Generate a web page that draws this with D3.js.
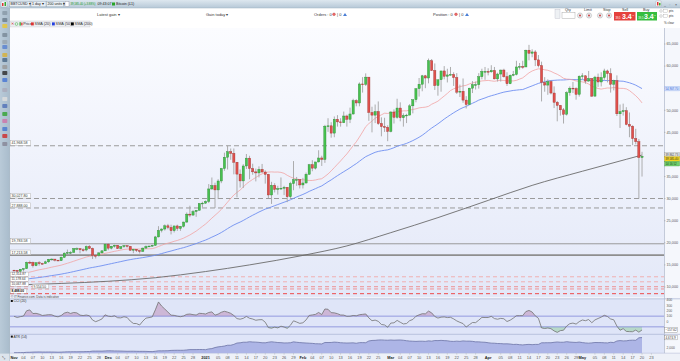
<!DOCTYPE html>
<html><head><meta charset="utf-8">
<script src="https://cdn.jsdelivr.net/npm/d3@7"></script>
<style>
html,body{margin:0;padding:0;background:#fff;overflow:hidden;}
svg{display:block;font-family:"Liberation Sans",Arial,sans-serif;}
</style></head><body>
<svg id="c" width="680" height="361"></svg>
<script>
// ---------------- DATA (BTC/USD daily) ----------------
const startDay = "2020-11-01";
const closes = [
 13760,13550,14030,14150,15590,15580,14830,15480,15330,15300,15700,16280,16320,16070,15960,16730,17660,17800,17820,18680,18710,18420,18370,19160,18730,17150,17140,17720,18180,19700,
 18790,19220,19450,18700,19150,19370,19190,18330,18550,18250,18040,18800,19170,19270,19430,21330,22800,23120,23850,23480,22740,23820,23250,23720,24700,26490,26280,27080,27360,28880,28980,
 29370,32190,32960,31970,33990,36820,39370,40600,40250,38240,35550,34010,37390,39160,36830,36060,35820,36630,36020,35490,30830,33000,32090,32270,32360,32570,30420,33400,34300,34300,33100,
 33540,35510,37670,36900,38300,39200,38870,46400,46480,44830,47960,47370,47190,48700,47960,49160,52180,51650,55950,55880,57500,49500,48900,49700,47000,46300,46150,45200,
 49600,48400,50500,48300,48800,48900,51000,52400,54900,55900,57800,57300,61200,59000,55600,56900,58900,57700,58000,58100,57400,54100,54300,52300,51300,55000,55800,55800,57600,58800,58800,
 58700,59000,57100,58200,59100,57600,56000,57900,58100,59800,59900,59800,63600,62900,63200,61400,60100,56300,55700,56500,53900,51800,51100,50100,49100,54000,55000,54900,53600,57700,
 57800,56600,57200,53200,57500,56400,57400,58900,58300,55900,56700,49200,49700,49900,46800,46400,43600,42900,39300,39585];
const highs = [
 13900,13820,14060,14250,15740,15960,15760,15640,15850,15480,15950,16350,16480,16330,16140,16880,17860,18480,18120,18810,18960,18700,18770,19390,19470,18910,17450,17880,18350,19860,
 19920,19300,19580,19510,19180,19420,19420,19290,18640,18560,18290,18940,19410,19350,19570,21560,23770,23280,24170,24280,24100,23840,24100,23800,24780,26870,28400,27400,27390,28990,29300,
 29600,33300,34780,33600,34400,36950,40400,41950,41350,41350,38300,36600,37800,40100,39700,37900,36800,37300,37850,36400,35600,33800,33500,32900,34800,32900,32600,33800,38500,34900,34400,
 34700,35900,37850,38700,38300,40950,39700,46700,48200,47300,48600,48900,48200,49700,49000,50600,52600,52500,56300,57500,58350,57500,50800,51300,52000,48400,48300,46600,
 49800,50200,52600,51800,49300,49200,51400,52400,54900,57300,58000,58000,61700,61600,60600,56900,58900,60000,59400,59800,58600,58400,55800,57200,53200,55100,56600,56500,58400,59400,59800,
 59500,60200,59800,58500,59200,59400,58600,58100,58900,61200,60700,61200,63700,64800,63800,63600,62500,61000,57500,57000,56800,55400,52100,51200,50500,54300,55400,56400,55200,57900,
 58400,57900,58900,57200,57800,58300,58600,59400,59200,59500,56900,57900,51300,51500,50700,49500,46600,45800,43500,40600];
const lows = [
 13620,13250,13300,13530,14100,15200,14400,14700,14840,15100,15280,15450,15970,15780,15870,15890,16560,17240,17380,17780,18340,17630,18000,18070,18580,16330,16450,16880,17520,18180,
 18330,18510,18920,18600,18550,18870,18910,18200,17650,17930,17580,18020,18710,19000,19080,19290,21230,22350,22780,23060,21900,22350,22700,22700,23450,24520,25800,26100,25880,27320,28000,
 28800,29000,32000,27880,29900,33500,36300,36600,38800,35500,30300,32500,32400,36700,34400,35400,33900,34800,35900,33400,30070,28800,31400,30900,31950,30800,29200,30000,31900,32900,32300,
 32300,33400,35400,36200,36600,38200,37400,38100,45100,43800,43900,46300,46300,47100,46300,47100,49000,50900,50900,54000,55500,47600,45000,47100,46700,44100,45100,43000,
 45000,47000,48100,47500,46300,47100,48900,49300,51800,53100,54300,55000,56100,58900,54600,53300,54200,57000,56300,57900,55500,53700,53000,51700,50400,51300,53900,54700,54900,57000,56900,
 57900,58500,57000,56500,56500,57400,55500,55900,57700,57900,59200,59400,59800,61300,62000,60000,59700,52000,54200,53500,53600,50500,47500,48800,47000,48800,53300,53900,52400,53100,
 57000,56000,56500,53000,53100,55300,55400,56900,56300,54000,54500,48700,46000,48800,46600,43900,42100,42300,30000,35000];
// closes before the visible window (Sep 13 - Oct 31 2020), used by the indicators
const priorClose = [10330,10680,10790,10950,10940,10930,11080,10920,10420,10530,10240,10740,10690,10730,10770,10710,10840,10780,
 10620,10570,10550,10670,10790,10600,10670,10920,11060,11300,11380,11540,11430,11430,11500,11320,11360,11480,11750,11920,12820,12970,12930,13110,13030,13070,13650,13270,13460,13560,13800];
const priorHigh = [11560,11550,11620,11540,11400,11490,11800,12000,13200,13180,13020,13160,13330,13240,13790,13840,13620,13680,14080];
const priorLow  = [11280,11300,11270,11240,11300,11340,11420,11680,11900,12690,12720,12880,12900,12800,13060,12950,12990,13140,13450];
// SMA(200) (day index from Nov 1, value)
const sma200Days = [0,15,30,45,61,75,92,106,120,135,151,165,181,195,200];
const sma200Vals = [10450,10800,11300,12100,13500,15000,17150,19300,22300,25700,29600,33000,36200,38900,39862.73];
// horizontal level lines
const levelVals   = [41968.58,30027.80,27888.00,19783.58,17213.58,12314.87,11178.64,10067.88,9554.50,8488.00];
const levelLabels = ["41,968.58","30,027.80","27,888.00","19,783.58","17,213.58","12,314.87","11,178.64","10,067.88","9,554.50","8,488.00"];
const levelKinds  = ["dash","dash","dash","solid","solid2","red1","red1","red2","red2","red3"];
const yTicks = [10000,15000,20000,25000,30000,35000,40000,45000,50000,55000,60000,65000];
const cciTicks = [400,300,200,100,0];
const atrTicks = [2000,4000];
const xMonthLabels = ["Nov","Dec","2021","Feb","Mar","Apr","May"];
const xMonthStarts = ["2020-11-01","2020-12-01","2021-01-01","2021-02-01","2021-03-01","2021-04-01","2021-05-01"];
const xDayTicks = [[4,7,10,13,16,19,22,25,28],[4,7,10,13,16,19,22,25,28],[5,8,11,14,17,20,23,26,29],
  [4,7,10,13,16,19,22,25],[4,7,10,13,16,19,22,25,28],[5,8,11,14,17,20,23,26,29],[5,8,11,14,17,20,23]];

// ---------------- BUILD ----------------
const parse = d3.utcParse("%Y-%m-%d");
const d0 = parse(startDay);
const opens = [priorClose[priorClose.length-1]].concat(closes.slice(0,-1));
const candles = closes.map((c,i)=>({date:d3.utcDay.offset(d0,i),o:opens[i],h:highs[i],l:lows[i],c:c,i:i}));
const allC = priorClose.concat(closes);
const nP = priorClose.length;
candles.forEach((d,i)=>{
  d.sma20 = d3.mean(allC.slice(nP+i-19,nP+i+1));
  d.sma50 = d3.mean(allC.slice(nP+i-49,nP+i+1));
});
// CCI(20)
const pc19 = priorClose.slice(-19);
const tp = priorHigh.map((h,k)=>(h+priorLow[k]+pc19[k])/3).concat(candles.map(d=>(d.h+d.l+d.c)/3));
candles.forEach((d,i)=>{
  const w = tp.slice(i,i+20); const m = d3.mean(w); const md = d3.mean(w,v=>Math.abs(v-m));
  d.cci = (tp[i+19]-m)/(0.015*md);
});
// ATR(14), Wilder
let trs=[];
for(let k=5;k<19;k++){const pc=priorClose[nP-19+k-1];const h=priorHigh[k],l=priorLow[k];trs.push(Math.max(h-l,Math.abs(h-pc),Math.abs(l-pc)));}
let atr = d3.mean(trs);
candles.forEach((d,i)=>{
  const pc = i===0?priorClose[nP-1]:closes[i-1];
  const tr = Math.max(d.h-d.l,Math.abs(d.h-pc),Math.abs(d.l-pc));
  atr = (atr*13+tr)/14; d.atr = atr;
});
const sma200 = sma200Days.map((k,j)=>({date:d3.utcDay.offset(d0,k),v:sma200Vals[j]}));

const svg = d3.select("#c");
const PL=10, PR=664, PT=28, PB=297.5;
const x = d3.scaleUtc().domain([d3.utcHour.offset(d0,-30.5), d3.utcHour.offset(d0,207*24)]).range([PL,PR]);
const y = d3.scaleLinear().domain([7736,68620]).range([297,28]);
const cy = d3.scaleLinear().domain([-400,400]).range([342.9,300.1]);
const ay = d3.scaleLinear().domain([2000,4000]).range([347.3,340]);
const fmt2 = d3.format(",.2f");

const defs = svg.append("defs");
function grad(id,stops,vertical=true){const g=defs.append("linearGradient").attr("id",id).attr("x1",0).attr("y1",0).attr("x2",vertical?0:1).attr("y2",vertical?1:0);
  stops.forEach(s=>g.append("stop").attr("offset",s[0]).attr("stop-color",s[1]));}
grad("bg",[["0%","#fbfcff"],["100%","#e3e8f8"]]);
grad("hdr",[["0%","#dde7ef"],["100%","#b6c8d7"]]);
grad("tb",[["0%","#b9cad8"],["100%","#a9bccc"]],false);
defs.append("clipPath").attr("id","cm").append("rect").attr("x",PL).attr("y",PT).attr("width",PR-PL).attr("height",PB-PT);
defs.append("clipPath").attr("id","cc").append("rect").attr("x",PL).attr("y",299).attr("width",PR-PL).attr("height",35);
defs.append("clipPath").attr("id","ca").append("rect").attr("x",PL).attr("y",334.3).attr("width",PR-PL).attr("height",19);

// backgrounds
svg.append("rect").attr("x",0).attr("y",0).attr("width",680).attr("height",361).attr("fill","#ffffff");
svg.append("rect").attr("x",PL).attr("y",PT).attr("width",PR-PL).attr("height",PB-PT).attr("fill","url(#bg)");
svg.append("rect").attr("x",PL).attr("y",298.8).attr("width",PR-PL).attr("height",54.5).attr("fill","#dfe5f8");
svg.append("rect").attr("x",PR).attr("y",PT).attr("width",680-PR).attr("height",353.3-PT).attr("fill","#f5f7fc");
svg.append("line").attr("x1",PR+0.5).attr("x2",PR+0.5).attr("y1",PT).attr("y2",353.3).attr("stroke","#c3cad9").attr("stroke-width",1);
[298.8,334.3,353.3].forEach(v=>svg.append("line").attr("x1",PL).attr("x2",680).attr("y1",v).attr("y2",v).attr("stroke","#aeb9d6").attr("stroke-width",0.8));
svg.append("rect").attr("x",PL).attr("y",353.6).attr("width",680-PL).attr("height",7.4).attr("fill","#eef1f8");

// level lines
const main = svg.append("g").attr("clip-path","url(#cm)");
const lvStyle = {dash:{s:"#9b9b9b",w:1,d:"5,3"},solid:{s:"#9a9a9a",w:1,d:null},solid2:{s:"#8e8e8e",w:1.6,d:null},
  red1:{s:"#f2a9a9",w:0.9,d:"4,3"},red2:{s:"#ee8a8a",w:0.9,d:"4,3"},red3:{s:"#ee4b4b",w:1,d:"4,3"}};
levelVals.forEach((v,j)=>{const st=lvStyle[levelKinds[j]];
  main.append("line").attr("x1",PL).attr("x2",PR).attr("y1",y(v)).attr("y2",y(v)).attr("stroke",st.s).attr("stroke-width",st.w).attr("stroke-dasharray",st.d);});

// moving averages
main.append("path").datum(sma200).attr("fill","none").attr("stroke","#6b6b6b").attr("stroke-width",0.9)
  .attr("d",d3.line().x(d=>x(d.date)).y(d=>y(d.v)).curve(d3.curveMonotoneX));
main.append("path").datum(candles).attr("fill","none").attr("stroke","#6f8ff0").attr("stroke-width",0.9).attr("d",d3.line().x(d=>x(d.date)).y(d=>y(d.sma50)));
main.append("path").datum(candles).attr("fill","none").attr("stroke","#f1a3a3").attr("stroke-width",0.8).attr("d",d3.line().x(d=>x(d.date)).y(d=>y(d.sma20)));

// candles
const cg = main.append("g");
cg.selectAll("line").data(candles).join("line")
  .attr("x1",d=>x(d.date)).attr("x2",d=>x(d.date)).attr("y1",d=>y(d.h)).attr("y2",d=>y(d.l))
  .attr("stroke","#a4a4a4").attr("stroke-width",0.9);
cg.selectAll("rect").data(candles).join("rect")
  .attr("x",d=>x(d.date)-1.1).attr("width",2.2)
  .attr("y",d=>y(Math.max(d.o,d.c))).attr("height",d=>Math.max(0.8,Math.abs(y(d.o)-y(d.c))))
  .attr("fill",d=>d.c>=d.o?"#47c14f":"#e0504c").attr("stroke",d=>d.c>=d.o?"#2e8a35":"#9e3431").attr("stroke-width",0.4);

// level labels (left); the crowded red levels are nudged sideways
const lvOffX = [0,0,0,0,0,0,0,0,22,0];
levelVals.forEach((v,j)=>{const yy=y(v);
  const fs = j>=5?3.2:3.6;
  const bw = levelLabels[j].length*fs*0.56+2;
  const bx = 10.5+lvOffX[j];
  svg.append("rect").attr("x",bx).attr("y",yy-fs-1.5).attr("width",bw).attr("height",fs+1).attr("fill","#fff").attr("stroke","#a0a0a0").attr("stroke-width",0.4);
  svg.append("text").attr("x",bx+1).attr("y",yy-1.3).attr("font-size",fs).attr("fill",levelKinds[j]==="red3"?"#111":"#333")
    .attr("font-weight",levelKinds[j]==="red3"?"bold":"normal").text(levelLabels[j]);});
svg.append("text").attr("x",11).attr("y",298.3).attr("font-size",3.0).attr("fill","#444").text("© IT Finance.com. Data is indicative");

// right axis (price)
const last = candles[candles.length-1];
const tags = [
  {y:y(last.sma50), t:fmt2(last.sma50), f:"#d5e2fa", c:"#3a62d8", s:"#9fb6ee"},
  {y:y(sma200Vals[sma200Vals.length-1]), t:fmt2(sma200Vals[sma200Vals.length-1]), f:"#e6e6e6", c:"#444", s:"#999"},
  {y:y(last.c)+2.8, t:fmt2(last.c+0.4), f:"#f2d21a", c:"#333", s:"#c9a900"},
  {y:y(last.c)+7.4, t:"14:16:52", f:"#72cf6c", c:"#1d4d1a", s:"#4fa04a"}];
const ax = svg.append("g").attr("font-size",3.8).attr("fill","#5a5a5a");
yTicks.forEach(v=>{ax.append("line").attr("x1",PR).attr("x2",PR+1.5).attr("y1",y(v)).attr("y2",y(v)).attr("stroke","#999").attr("stroke-width",0.5);
  if (tags.some(t=>Math.abs(t.y-y(v))<4.5)) return;
  ax.append("text").attr("x",PR+2.5).attr("y",y(v)+1.3).text(d3.format(",")(v));});
tags.forEach(g=>{svg.append("rect").attr("x",PR+0.8).attr("y",g.y-2.3).attr("width",14.8).attr("height",4.6).attr("fill",g.f).attr("stroke",g.s).attr("stroke-width",0.4);
  svg.append("text").attr("x",PR+1.4).attr("y",g.y+1.1).attr("font-size",2.9).attr("fill",g.c).text(g.t);});

// CCI panel
const cg2 = svg.append("g").attr("clip-path","url(#cc)");
cg2.append("path").datum(candles).attr("fill","#cdb7d6").attr("d",d3.area().x(d=>x(d.date)).y0(cy(100)).y1(d=>cy(Math.max(d.cci,100))));
cg2.append("path").datum(candles).attr("fill","#b7d9c9").attr("d",d3.area().x(d=>x(d.date)).y0(cy(-100)).y1(d=>cy(Math.min(d.cci,-100))));
[100,-100].forEach(v=>cg2.append("line").attr("x1",PL).attr("x2",PR).attr("y1",cy(v)).attr("y2",cy(v)).attr("stroke","#7f86d8").attr("stroke-width",0.8));
cg2.append("path").datum(candles).attr("fill","none").attr("stroke","#727272").attr("stroke-width",0.8).attr("d",d3.line().x(d=>x(d.date)).y(d=>cy(d.cci)));
cciTicks.forEach(v=>ax.append("text").attr("x",PR+2.5).attr("y",cy(v)+1.3).attr("font-size",3.4).text(v));
svg.append("rect").attr("x",PR+0.8).attr("y",cy(last.cci)-2.3).attr("width",13).attr("height",4.6).attr("fill","#fff").attr("stroke","#888").attr("stroke-width",0.4);
svg.append("text").attr("x",PR+1.5).attr("y",cy(last.cci)+1.1).attr("font-size",3.1).attr("fill","#333").text(d3.format(".2f")(last.cci));
svg.append("rect").attr("x",10.8).attr("y",300).attr("width",2).attr("height",2).attr("fill","#111");
svg.append("text").attr("x",13.5).attr("y",302.2).attr("font-size",3.4).attr("fill","#333").text("CCI (20)");

// ATR panel
const ag = svg.append("g").attr("clip-path","url(#ca)");
ag.append("path").datum(candles).attr("fill","#adb5e6").attr("d",d3.area().x(d=>x(d.date)).y0(353.3).y1(d=>ay(d.atr)));
ag.append("path").datum(candles).attr("fill","none").attr("stroke","#6c74a6").attr("stroke-width",0.8).attr("d",d3.line().x(d=>x(d.date)).y(d=>ay(d.atr)));
const atrTagY = ay(last.atr);
atrTicks.forEach(v=>{ if (Math.abs(ay(v)-atrTagY)<4.5) return; ax.append("text").attr("x",PR+2.5).attr("y",ay(v)+1.3).attr("font-size",3.4).text(d3.format(",")(v));});
svg.append("rect").attr("x",PR+0.8).attr("y",atrTagY-2.3).attr("width",13).attr("height",4.6).attr("fill","#fff").attr("stroke","#888").attr("stroke-width",0.4);
svg.append("text").attr("x",PR+1.5).attr("y",atrTagY+1.1).attr("font-size",3.1).attr("fill","#333").text(d3.format(",.1f")(last.atr));
svg.append("rect").attr("x",10.8).attr("y",335.6).attr("width",2).attr("height",2).attr("fill","#111");
svg.append("text").attr("x",13.5).attr("y",337.8).attr("font-size",3.4).attr("fill","#333").text("ATR (14)");

// x axis
const xa = svg.append("g").attr("font-size",3.9).attr("text-anchor","middle");
xMonthStarts.forEach((ms,j)=>{const md=parse(ms);
  xa.append("text").attr("x",x(md)).attr("y",359).attr("font-weight","bold").attr("fill","#222").text(xMonthLabels[j]);
  xDayTicks[j].forEach(dd=>{const dt=d3.utcDay.offset(md,dd-1);
    xa.append("line").attr("x1",x(dt)).attr("x2",x(dt)).attr("y1",353.3).attr("y2",354.6).attr("stroke","#999").attr("stroke-width",0.4);
    xa.append("text").attr("x",x(dt)).attr("y",359).attr("fill","#555").text(d3.format("02")(dd));});});

// left toolbar
svg.append("rect").attr("x",0).attr("y",8).attr("width",9.5).attr("height",353).attr("fill","url(#tb)");
svg.append("line").attr("x1",9.5).attr("x2",9.5).attr("y1",8).attr("y2",361).attr("stroke","#8fa4b6").attr("stroke-width",0.6);
const icons=[[11,"#8a9aa8"],[18,"#6d7f8f"],[24,"#e8c63a"],[33,"#7b8b99"],[40,"#9aa6b0"],[45,"#5c84d0"],[53,"#d6b23d"],[58,"#4d6b8a"],
 [65,"#999"],[71,"#333"],[78,"#4a78d4"],[88,"#aab"],[97,"#ddd"],[104,"#5574b8"],[112,"#3aa53a"],[119,"#c7a"],[127,"#4a7ad0"],[134,"#c33"],[142,"#889"]];
icons.forEach(t=>svg.append("rect").attr("x",2.3).attr("y",t[0]).attr("width",5).attr("height",4).attr("rx",0.8).attr("fill",t[1]).attr("opacity",0.85));
svg.append("rect").attr("x",0).attr("y",353.6).attr("width",9.5).attr("height",7.4).attr("fill","#dde4ec");
svg.append("text").attr("x",2).attr("y",359).attr("font-size",4).attr("fill","#555").text("⤡");

// header bar
const hd = svg.append("g").attr("font-size",3.6);
hd.append("rect").attr("x",0).attr("y",0).attr("width",680).attr("height",8).attr("fill","url(#hdr)");
hd.append("line").attr("x1",0).attr("x2",680).attr("y1",8).attr("y2",8).attr("stroke","#9fb2c3").attr("stroke-width",0.5);
hd.append("rect").attr("x",1).attr("y",1).attr("width",6).attr("height",6).attr("fill","#f3f6f9").attr("stroke","#8899aa").attr("stroke-width",0.4);
hd.append("rect").attr("x",2).attr("y",3).attr("width",1.5).attr("height",3).attr("fill","#d33");
hd.append("rect").attr("x",4.5).attr("y",2).attr("width",1.5).attr("height",4).attr("fill","#3a3");
[[9.5,20.5,"BBTCUSD ▾"],[31,15,"1 day ▾"],[46.5,17,"200 units ▾"]].forEach(p=>{
  hd.append("rect").attr("x",p[0]).attr("y",1.2).attr("width",p[1]).attr("height",5.6).attr("fill","#e9eff4").attr("stroke","#8fa2b3").attr("stroke-width",0.4);
  hd.append("text").attr("x",p[0]+1).attr("y",5.3).attr("fill","#222").text(p[2]);});
hd.append("rect").attr("x",65).attr("y",1.5).attr("width",4).attr("height",5).attr("fill","#fff").attr("stroke","#889").attr("stroke-width",0.4);
hd.append("text").attr("x",70.5).attr("y",5.3).attr("font-size",3.1).attr("fill","#14951b").attr("textLength",25).attr("lengthAdjust","spacingAndGlyphs").text("39,585.40 (+3.88%)");
hd.append("text").attr("x",97.5).attr("y",5.3).attr("fill","#222").text("09:43:07");
hd.append("rect").attr("x",112).attr("y",2.5).attr("width",3).attr("height",3).attr("fill","#27a327");
hd.append("text").attr("x",116).attr("y",5.3).attr("fill","#222").text("Bitcoin (£1)");
hd.append("rect").attr("x",656).attr("y",1).attr("width",5).attr("height",5.5).attr("fill","#fff").attr("stroke","#889").attr("stroke-width",0.3);
hd.append("rect").attr("x",657).attr("y",2).attr("width",1.5).attr("height",3.5).attr("fill","#d33");
hd.append("rect").attr("x",659).attr("y",2.8).attr("width",1.5).attr("height",2.7).attr("fill","#3a3");
hd.append("text").attr("x",664).attr("y",5.5).attr("fill","#333").text("_");
hd.append("text").attr("x",669).attr("y",5.5).attr("fill","#333").text("▫");
hd.append("text").attr("x",675).attr("y",5.5).attr("fill","#333").text("×");

// second row
const r2 = svg.append("g").attr("font-size",4).attr("fill","#333");
r2.append("text").attr("x",97).attr("y",15.6).text("Latest gain ▾");
r2.append("text").attr("x",206).attr("y",15.6).text("Gain today ▾");
r2.append("text").attr("x",314).attr("y",15.6).text("Orders : 0");
r2.append("circle").attr("cx",334).attr("cy",14.3).attr("r",1.4).attr("fill","#e66").attr("stroke","#a33").attr("stroke-width",0.3);
r2.append("text").attr("x",337).attr("y",15.6).text("| 0");
r2.append("path").attr("d","M343,16 l2,-3 l2,3 z").attr("fill","#4a7ed6");
r2.append("text").attr("x",433).attr("y",15.6).text("Position : 0");
r2.append("circle").attr("cx",456).attr("cy",14.3).attr("r",1.4).attr("fill","#e66").attr("stroke","#a33").attr("stroke-width",0.3);
r2.append("text").attr("x",459).attr("y",15.6).text("| 0");
r2.append("path").attr("d","M465,16 l2,-3 l2,3 z").attr("fill","#4a7ed6");
// deal ticket
const dt = svg.append("g").attr("font-size",3.7).attr("fill","#333");
dt.append("rect").attr("x",555).attr("y",9.5).attr("width",5).attr("height",9).attr("fill","#eef1f4").attr("stroke","#aab").attr("stroke-width",0.3);
dt.append("text").attr("x",565).attr("y",11).text("Qty");
dt.append("rect").attr("x",562).attr("y",12.5).attr("width",13).attr("height",6).attr("fill","#fff").attr("stroke","#999").attr("stroke-width",0.4);
dt.append("text").attr("x",584).attr("y",11).text("Limit");
dt.append("text").attr("x",603).attr("y",11).text("Stop");
[580,589,600,609].forEach(cx0=>{dt.append("circle").attr("cx",cx0).attr("cy",15.5).attr("r",2.6).attr("fill","#e9ecef").attr("stroke","#999").attr("stroke-width",0.4);
  dt.append("circle").attr("cx",cx0).attr("cy",15.5).attr("r",1).attr("fill","#c44");});
dt.append("text").attr("x",622).attr("y",11).text("Sell");
dt.append("text").attr("x",643).attr("y",11).text("Buy");
dt.append("rect").attr("x",614).attr("y",12).attr("width",21.5).attr("height",8.5).attr("fill","#e5423d");
dt.append("text").attr("x",615.5).attr("y",18.5).attr("font-size",2.6).attr("fill","#fff").text("39,5");
dt.append("text").attr("x",622).attr("y",19.2).attr("font-size",7).attr("font-weight","bold").attr("fill","#fff").text("3.4");
dt.append("text").attr("x",632.5).attr("y",15.5).attr("font-size",2.5).attr("fill","#fff").text("0");
dt.append("rect").attr("x",637).attr("y",12).attr("width",20).attr("height",8.5).attr("fill","#37bd3f");
dt.append("text").attr("x",638.3).attr("y",18.5).attr("font-size",2.6).attr("fill","#fff").text("39,5");
dt.append("text").attr("x",644).attr("y",19.2).attr("font-size",7).attr("font-weight","bold").attr("fill","#fff").text("3.4");
dt.append("text").attr("x",654.3).attr("y",15.5).attr("font-size",2.5).attr("fill","#fff").text("0");
[11,16].forEach(cy0=>{dt.append("circle").attr("cx",661).attr("cy",cy0).attr("r",1.3).attr("fill","#fff").attr("stroke","#777").attr("stroke-width",0.3);
  dt.append("rect").attr("x",663.5).attr("y",cy0-1.8).attr("width",4).attr("height",3.6).attr("fill","#fff").attr("stroke","#999").attr("stroke-width",0.3);
  dt.append("text").attr("x",669).attr("y",cy0+1.2).attr("font-size",3.2).text("pts");});
dt.append("text").attr("x",664).attr("y",23.5).attr("font-size",3).text("% clear");

// legend row
const lg = svg.append("g").attr("font-size",3.8).attr("fill","#333");
lg.append("rect").attr("x",10).attr("y",21).attr("width",80).attr("height",6).attr("fill","#eceef2").attr("stroke","#c6c8cc").attr("stroke-width",0.4);
lg.append("text").attr("x",10.8).attr("y",25.4).attr("fill","#c33").text("✕");
lg.append("circle").attr("cx",16.5).attr("cy",24).attr("r",1.4).attr("fill","none").attr("stroke","#3a3").attr("stroke-width",0.5);
lg.append("rect").attr("x",19.5).attr("y",22.2).attr("width",1.3).attr("height",3.4).attr("fill","#3a3");
lg.append("rect").attr("x",21.2).attr("y",22.6).attr("width",1.3).attr("height",2.8).attr("fill","#d33");
lg.append("text").attr("x",23.2).attr("y",25.4).text("Price");
[[31,"#d33","SMA (20)"],[52,"#2340e0","SMA (50)"],[71,"#000","SMA (200)"]].forEach(t=>{
  lg.append("rect").attr("x",t[0]).attr("y",22.4).attr("width",2.8).attr("height",3).attr("fill",t[1]);
  lg.append("text").attr("x",t[0]+3.6).attr("y",25.4).text(t[2]);});
</script>
</body></html>
